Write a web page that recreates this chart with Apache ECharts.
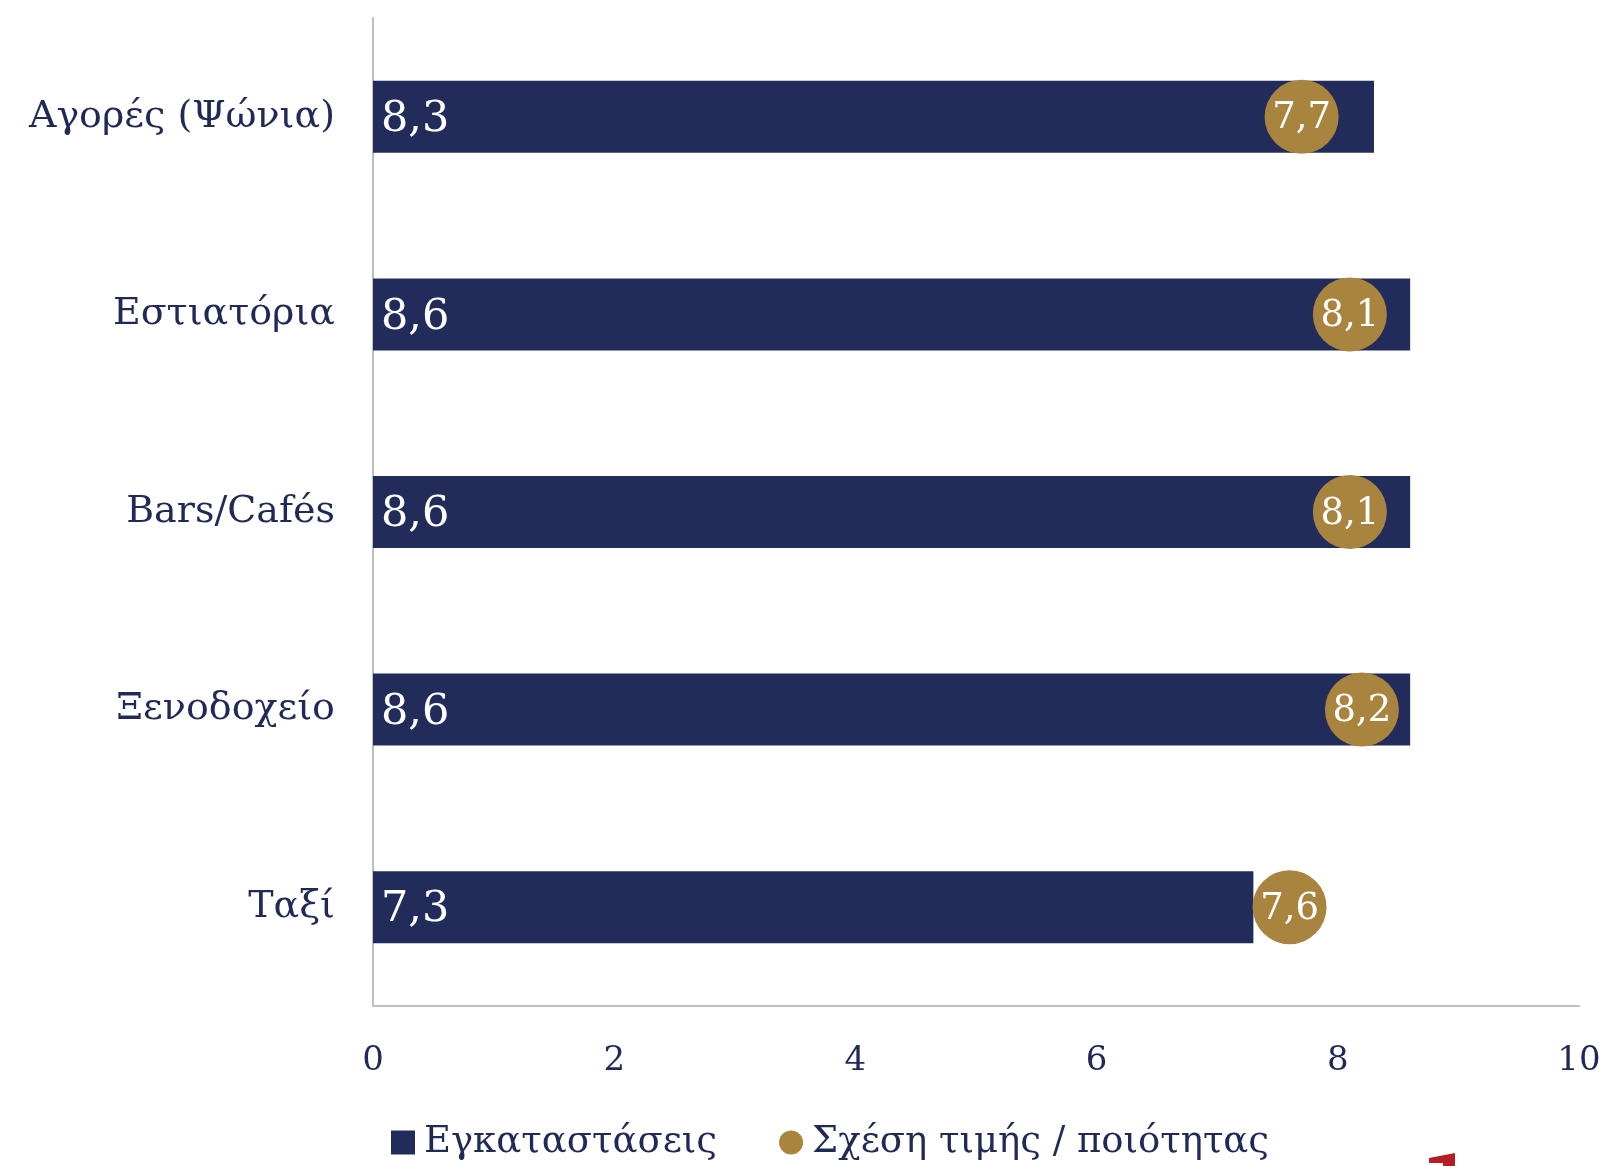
<!DOCTYPE html>
<html><head><meta charset="utf-8">
<script src="https://cdn.jsdelivr.net/npm/echarts@6/dist/echarts.min.js"></script>
<style>html,body{margin:0;padding:0;background:#fff}#c{width:1607px;height:1166px}</style>
</head><body><div id="c"></div>
<script>
const categories = ['Αγορές (Ψώνια)', 'Εστιατόρια', 'Bars/Cafés', 'Ξενοδοχείο', 'Ταξί'];
const facilities = [8.3, 8.6, 8.6, 8.6, 7.3];
const valueForMoney = [7.7, 8.1, 8.1, 8.2, 7.6];
const seriesNames = ['Εγκαταστάσεις', 'Σχέση τιμής / ποιότητας'];
const xTicks = [0, 2, 4, 6, 8, 10];

const NAVY = '#222C5A', GOLD = '#A8843F', TEXT = '#1F2A56';
const FONT = '"DejaVu Serif", "Liberation Serif", serif';
const fmt = v => String(v).replace('.', ',');

const chart = echarts.init(document.getElementById('c'));
chart.setOption({
  animation: false,
  textStyle: { fontFamily: FONT },
  grid: { left: 373, right: 28, top: 18, bottom: 160 },
  xAxis: {
    type: 'value', min: xTicks[0], max: xTicks[xTicks.length - 1], interval: 2,
    axisLine: { show: true, lineStyle: { color: '#BFBFBF', width: 2 } },
    axisTick: { show: false }, splitLine: { show: false },
    axisLabel: { color: TEXT, fontSize: 34, fontFamily: FONT, margin: 38, formatter: v => fmt(v) }
  },
  yAxis: {
    type: 'category', data: categories, inverse: true,
    axisLine: { show: true, lineStyle: { color: '#BFBFBF', width: 2 } },
    axisTick: { show: false },
    axisLabel: { color: TEXT, fontSize: 38, fontFamily: FONT, margin: 38 }
  },
  legend: {
    bottom: 0, left: 386, itemGap: 62, itemWidth: 24, itemHeight: 24,
    textStyle: { color: TEXT, fontSize: 37, fontFamily: FONT, padding: [0, 0, 0, 4] },
    data: [{ name: seriesNames[0], icon: 'rect' }, { name: seriesNames[1], icon: 'circle' }]
  },
  series: [
    {
      name: seriesNames[0], type: 'bar', data: facilities, barWidth: 72,
      itemStyle: { color: NAVY },
      label: { show: true, position: 'insideLeft', distance: 8, offset: [0, 3], color: '#fff', fontSize: 43, fontFamily: FONT, formatter: p => fmt(p.value) }
    },
    {
      name: seriesNames[1], type: 'scatter', data: valueForMoney, symbol: 'circle', symbolSize: 74,
      itemStyle: { color: GOLD, opacity: 1 }, z: 3,
      label: { show: true, position: 'inside', offset: [0, 2], color: '#fff', fontSize: 37, fontFamily: FONT, formatter: p => fmt(p.value) }
    }
  ],
  graphic: [{
    type: 'polygon', shape: { points: [[1429, 1158], [1455, 1153], [1455, 1166], [1443, 1166], [1443, 1163], [1429, 1163]] },
    style: { fill: '#B81C24' }
  }]
});
</script></body></html>
